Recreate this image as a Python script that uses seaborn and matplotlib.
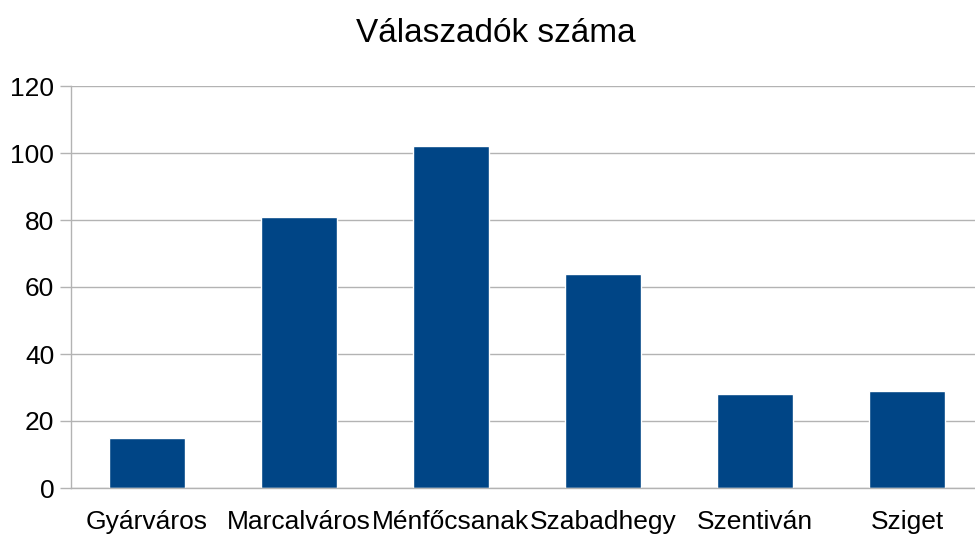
import numpy as np
import pandas as pd
import seaborn as sns
import matplotlib.pyplot as plt

districts = ["Gyárváros", "Marcalváros", "Ménfőcsanak", "Szabadhegy", "Szentiván", "Sziget"]
counts = [15, 81, 102, 64, 28, 29]
y_ticks = [0, 20, 40, 60, 80, 100, 120]

df = pd.DataFrame({"district": districts, "count": counts})

sns.set_theme(style="white")
plt.rcParams["font.family"] = ["Liberation Sans", "DejaVu Sans"]
plt.rcParams["text.color"] = "black"
plt.rcParams["xtick.labelcolor"] = "black"
plt.rcParams["ytick.labelcolor"] = "black"

fig = plt.figure(figsize=(9.75, 5.34), dpi=100)
ax = fig.add_axes([71 / 975, 46 / 534, 912 / 975, 402 / 534])

sns.barplot(data=df, x="district", y="count", color="#004586", width=0.5,
            saturation=1, ax=ax)

grid_col = "#b3b3b3"
ax.set_ylim(0, 120)
ax.set_yticks(y_ticks)
ax.set_xlim(-0.5, len(districts) - 0.5)
ax.yaxis.grid(True, color=grid_col, linewidth=1)
ax.set_axisbelow(True)

ax.set_xticks(np.arange(-0.5, len(districts), 1.0), minor=True)
ax.tick_params(axis="x", which="major", length=0, pad=16, labelsize=19, labelcolor="black")
ax.tick_params(axis="x", which="minor", length=9, width=1, color=grid_col, direction="out")
ax.tick_params(axis="y", length=8, width=1, color=grid_col, direction="out",
               labelsize=19, labelcolor="black", pad=4, left=True)

for side in ["top", "right"]:
    ax.spines[side].set_visible(False)
for side in ["left", "bottom"]:
    ax.spines[side].set_color(grid_col)
    ax.spines[side].set_linewidth(1)

ax.set_xlabel("")
ax.set_ylabel("")
fig.text(496 / 975, 1 - 33 / 534, "Válaszadók száma", ha="center", va="center",
         fontsize=24, color="black")

fig.savefig("out.png", dpi=100)
